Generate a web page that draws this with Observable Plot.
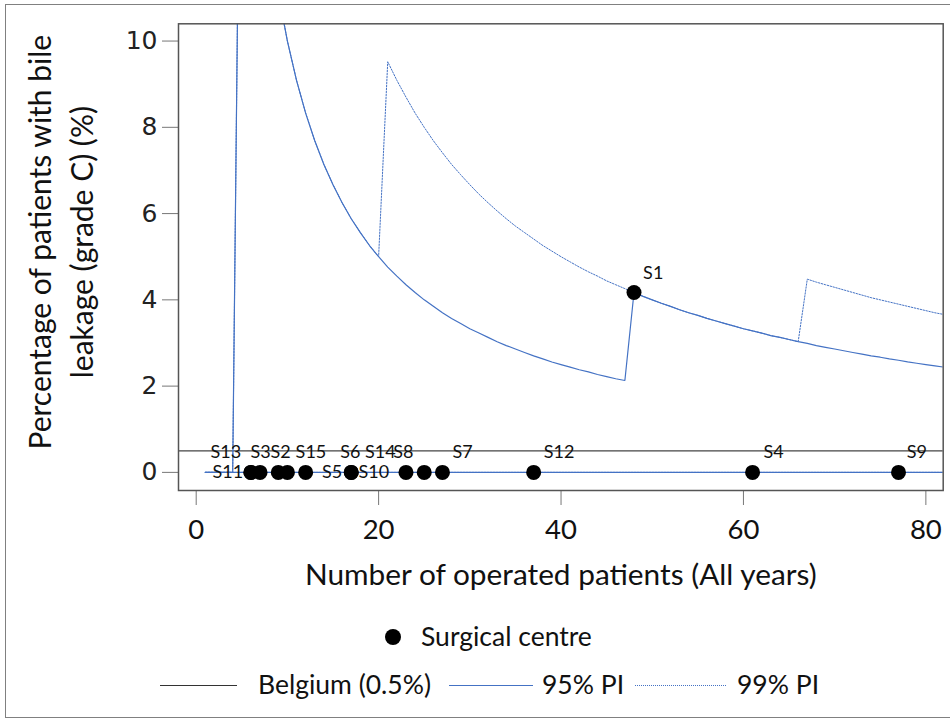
<!DOCTYPE html>
<html>
<head>
<meta charset="utf-8">
<script src="https://cdn.jsdelivr.net/npm/d3@7"></script>
<script src="https://cdn.jsdelivr.net/npm/@observablehq/plot@0.6"></script>
<style>
  html, body { margin: 0; padding: 0; background: #fff; overflow: hidden; }
  #page { position: relative; width: 950px; height: 719px; overflow: hidden; font-family: Lato, sans-serif; }
  #border { position: absolute; left: 5px; top: 4px; width: 1000px; height: 712px; border: 1.5px solid #808080; }
  #chart { position: absolute; left: 0; top: 0; }
  .lg { position: absolute; font-family: Lato, sans-serif; font-size: 26.5px; line-height: 30px; height: 30px; color: #111; white-space: nowrap; }
  .sw { position: absolute; height: 0; }
</style>
</head>
<body>
<div id="page">
  <div id="border"></div>
  <div id="chart"></div>
  <div class="lg" style="left:385px;top:629px;width:16px;height:16px;border-radius:50%;background:#000;"></div>
  <div class="lg" style="left:421px;top:621px;">Surgical centre</div>
  <div class="sw" style="left:160px;top:685px;width:77px;border-top:1.3px solid #333;"></div>
  <div class="lg" style="left:258px;top:669px;">Belgium (0.5%)</div>
  <div class="sw" style="left:449px;top:685px;width:84px;border-top:1.3px solid #4472C4;"></div>
  <div class="lg" style="left:542px;top:669px;">95% PI</div>
  <div class="sw" style="left:635px;top:685px;width:91px;border-top:1px dotted #4472C4;"></div>
  <div class="lg" style="left:737px;top:669px;">99% PI</div>
</div>
<script>
// ---- data ----
const nPatients = [1,2,3,4,5,6,7,8,9,10,11,12,13,14,15,16,17,18,19,20,21,22,23,24,25,26,27,28,29,30,31,32,33,34,35,36,37,38,39,40,41,42,43,44,45,46,47,48,49,50,51,52,53,54,55,56,57,58,59,60,61,62,63,64,65,66,67,68,69,70,71,72,73,74,75,76,77,78,79,80,81,82];
const upper95 = [0,0,0,0,20.00,16.67,14.29,12.50,11.11,10.00,9.09,8.33,7.69,7.14,6.67,6.25,5.88,5.56,5.26,5.00,4.76,4.55,4.35,4.17,4.00,3.85,3.70,3.57,3.45,3.33,3.23,3.13,3.03,2.94,2.86,2.78,2.70,2.63,2.56,2.50,2.44,2.38,2.33,2.27,2.22,2.17,2.13,4.17,4.08,4.00,3.92,3.85,3.77,3.70,3.64,3.57,3.51,3.45,3.39,3.33,3.28,3.23,3.17,3.13,3.08,3.03,2.99,2.94,2.90,2.86,2.82,2.78,2.74,2.70,2.67,2.63,2.60,2.56,2.53,2.50,2.47,2.44];
const upper99 = [0,0,0,0,20.00,16.67,14.29,12.50,11.11,10.00,9.09,8.33,7.69,7.14,6.67,6.25,5.88,5.56,5.26,5.00,9.52,9.09,8.70,8.33,8.00,7.69,7.41,7.14,6.90,6.67,6.45,6.25,6.06,5.88,5.71,5.56,5.41,5.26,5.13,5.00,4.88,4.76,4.65,4.55,4.44,4.35,4.26,4.17,4.08,4.00,3.92,3.85,3.77,3.70,3.64,3.57,3.51,3.45,3.39,3.33,3.28,3.23,3.17,3.13,3.08,3.03,4.48,4.41,4.35,4.29,4.23,4.17,4.11,4.05,4.00,3.95,3.90,3.85,3.80,3.75,3.70,3.66];
const lower95 = [0,0,0,0,0,0,0,0,0,0,0,0,0,0,0,0,0,0,0,0,0,0,0,0,0,0,0,0,0,0,0,0,0,0,0,0,0,0,0,0,0,0,0,0,0,0,0,0,0,0,0,0,0,0,0,0,0,0,0,0,0,0,0,0,0,0,0,0,0,0,0,0,0,0,0,0,0,0,0,0,0,0];
const belgiumRate = 0.5;

const centreNames = ["S1","S2","S3","S4","S5","S6","S7","S8","S9","S10","S11","S12","S13","S14","S15"];
const centreN     = [48, 9, 7, 61, 12, 17, 27, 25, 77, 17, 6, 37, 6, 23, 10];
const centrePct   = [4.17, 0, 0, 0, 0, 0, 0, 0, 0, 0, 0, 0, 0, 0, 0];
// label anchor positions (data units)
const labelN   = [49.0, 8.14, 5.95, 62.2, 13.8, 15.8, 28.1, 21.6, 77.9, 17.8, 1.79, 38.1, 1.57, 18.5, 10.9];
const labelPct = [4.61, 0.46, 0.46, 0.46, 0, 0.46, 0.46, 0.46, 0.46, 0, 0, 0.46, 0.46, 0.46, 0.46];

const xTicks = [0, 20, 40, 60, 80];
const yTicks = [0, 2, 4, 6, 8, 10];

// ---- tables ----
const limits = nPatients.map((n, i) => ({n, u95: upper95[i], u99: upper99[i], lo: lower95[i]}));
const centres = centreNames.map((name, i) => ({name, n: centreN[i], pct: centrePct[i], ln: labelN[i], lp: labelPct[i]}));

const blue = "#4472C4";
const chart = Plot.plot({
  width: 950,
  height: 610,
  marginTop: 23.3,
  marginLeft: 178,
  marginRight: 7.3,
  marginBottom: 120,
  style: {fontFamily: "Lato, sans-serif", background: "transparent", color: "#111"},
  x: {domain: [-1.94, 81.9]},
  y: {domain: [-0.42, 10.40]},
  marks: [
    Plot.axisY({ticks: yTicks, tickSize: 16, tickPadding: 5, fontSize: 25, fontFamily: "DejaVu Sans", stroke: "#777", fill: "#222", label: null}),
    Plot.axisX({ticks: xTicks, tickSize: 15, tickPadding: 14, fontSize: 27.5, stroke: "#777", fill: "#111", label: null}),
    Plot.ruleY([belgiumRate], {stroke: "#444", strokeWidth: 1.3}),
    Plot.line(limits, {x: "n", y: "lo", stroke: blue, strokeWidth: 1, strokeDasharray: "1.5,1.5", clip: true}),
    Plot.line(limits, {x: "n", y: "u99", stroke: blue, strokeWidth: 1, strokeDasharray: "1.5,1.5", clip: true}),
    Plot.line(limits, {x: "n", y: "lo", stroke: blue, strokeWidth: 1.2, clip: true}),
    Plot.line(limits, {x: "n", y: "u95", stroke: blue, strokeWidth: 1.2, clip: true}),
    Plot.dot(centres, {x: "n", y: "pct", r: 7.5, fill: "#000", stroke: "none"}),
    Plot.text(centres, {x: "ln", y: "lp", text: "name", textAnchor: "start", fontSize: 18, fill: "#111"}),
    Plot.frame({stroke: "#555", strokeWidth: 1.5}),
    Plot.text([0], {frameAnchor: "left", textAnchor: "middle", lineAnchor: "middle", dx: -120, dy: -15, rotate: -90, lineHeight: 1.4, fontSize: 30, fill: "#111",
      text: () => "Percentage of patients with bile\nleakage (grade C) (%)"}),
    Plot.text([0], {frameAnchor: "bottom", lineAnchor: "middle", dy: 85, fontSize: 29.8, fill: "#111",
      text: () => "Number of operated patients (All years)"})
  ]
});
document.getElementById("chart").appendChild(chart);
</script>
</body>
</html>
